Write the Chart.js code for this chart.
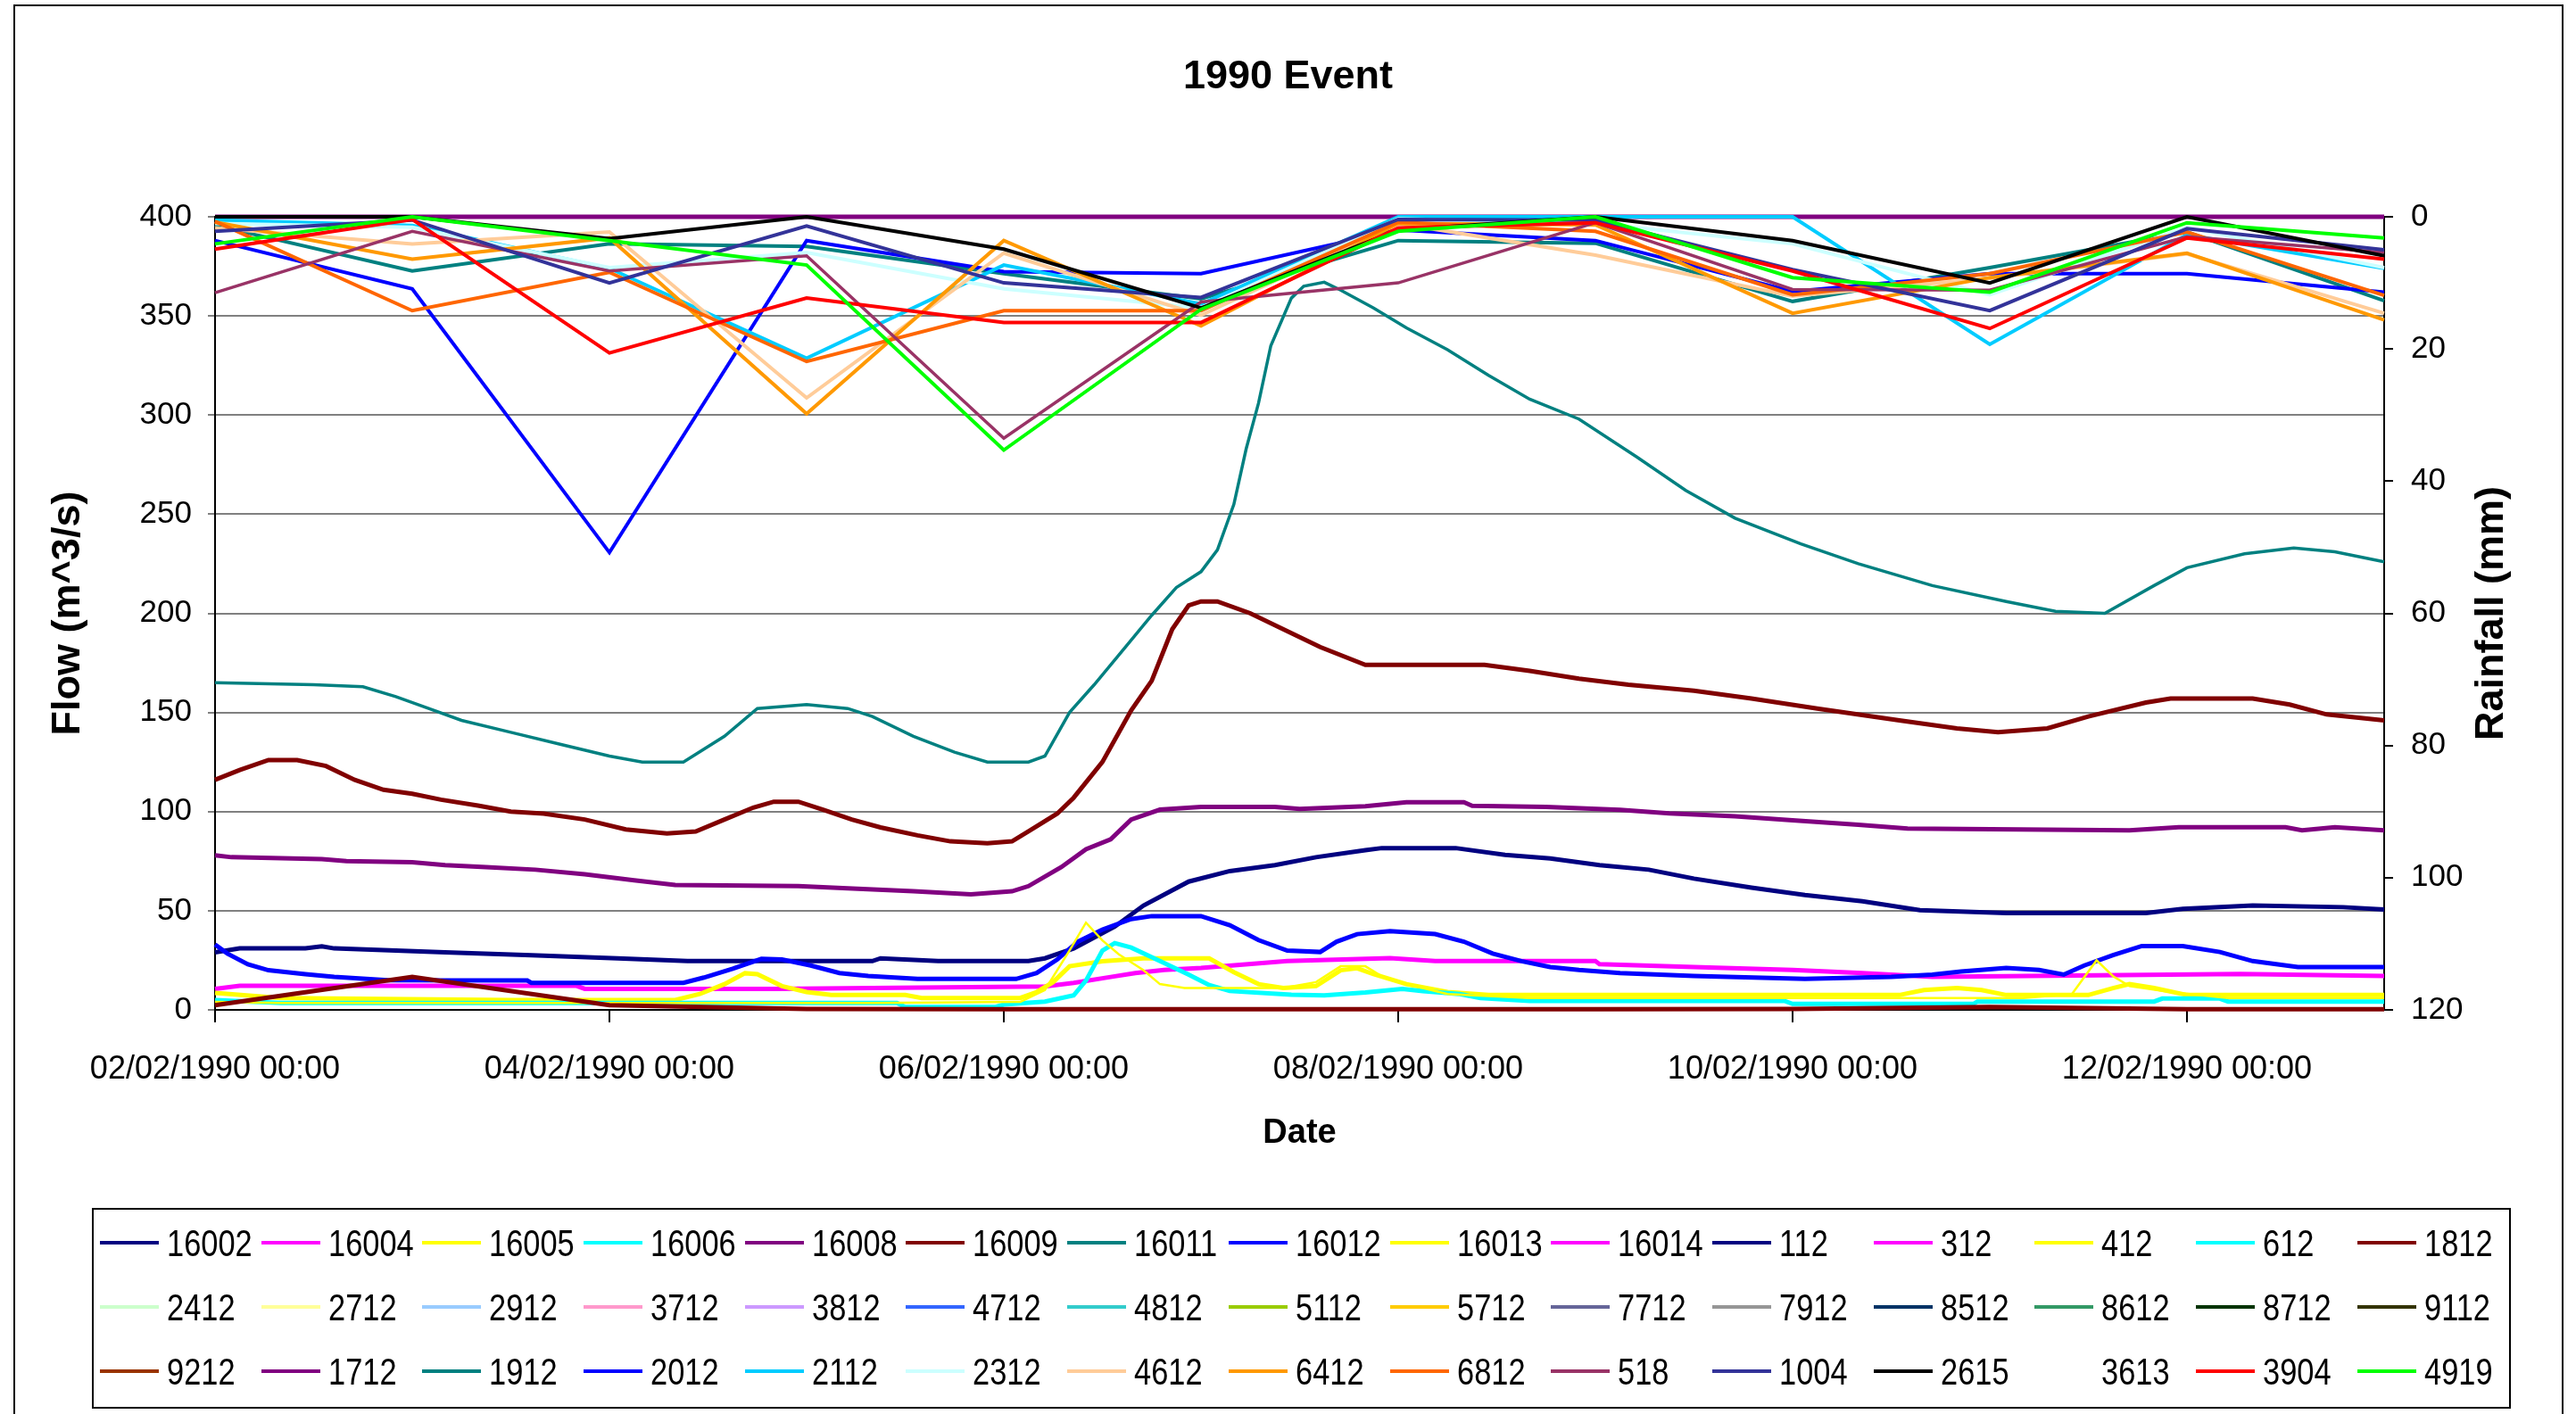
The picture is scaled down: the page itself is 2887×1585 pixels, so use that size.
<!DOCTYPE html>
<html>
<head>
<meta charset="utf-8">
<script src="https://cdn.jsdelivr.net/npm/chart.js@4.4.1/dist/chart.umd.min.js"></script>
<style>
  body { margin: 0; background: #fff; }
  #wrap { position: relative; width: 2887px; height: 1585px; overflow: hidden; }
  #frame { position: absolute; left: 15px; top: 5px; width: 2858px; height: 1590px; border: 2px solid #000; box-sizing: border-box; pointer-events: none; }
  #legend {
    position: absolute; left: 103px; top: 1354px; width: 2711px; height: 225px;
    border: 2px solid #000; box-sizing: border-box; padding: 1px 0 0 7px;
    display: grid; grid-template-columns: repeat(15, 180.7px); grid-auto-rows: 72px;
    font-family: 'Liberation Sans', Arial, sans-serif;
    font-size: 43px; color: #000;
  }
  .item { display: flex; align-items: center; white-space: nowrap; }
  .swatch { width: 66px; height: 4px; margin-right: 9px; flex: none; }
  .name { display: inline-block; transform: scaleX(0.8); transform-origin: left center; }
</style>
</head>
<body>
<div id="wrap">
  <canvas id="chart" width="2887" height="1585"></canvas>
  <div id="frame"></div>
  <div id="legend"></div>
</div>
<script>
const FONT = "'Liberation Sans', Arial, sans-serif";

const chartTitle = '1990 Event';
const flowTitle = 'Flow (m^3/s)';
const rainTitle = 'Rainfall (mm)';
const dateTitle = 'Date';
const dateLabels = ['02/02/1990 00:00', '04/02/1990 00:00', '06/02/1990 00:00',
    '08/02/1990 00:00', '10/02/1990 00:00', '12/02/1990 00:00'];

const seriesNames = ['16002', '16004', '16005', '16006', '16008', '16009', '16011', '16012', '16013', '16014', '112', '312', '412', '612', '1812',
    '2412', '2712', '2912', '3712', '3812', '4712', '4812', '5112', '5712', '7712', '7912', '8512', '8612', '8712', '9112',
    '9212', '1712', '1912', '2012', '2112', '2312', '4612', '6412', '6812', '518', '1004', '2615', '3613', '3904', '4919'];
const seriesColors = ['#000080', '#FF00FF', '#FFFF00', '#00FFFF', '#800080', '#800000', '#008080', '#0000FF', '#FFFF00', '#FF00FF', '#000080', '#FF00FF', '#FFFF00', '#00FFFF', '#800000',
    '#CCFFCC', '#FFFF99', '#99CCFF', '#FF99CC', '#CC99FF', '#3366FF', '#33CCCC', '#99CC00', '#FFCC00', '#666699', '#969696', '#003366', '#339966', '#003300', '#333300',
    '#993300', '#800080', '#008080', '#0000FF', '#00CCFF', '#CCFFFF', '#FFCC99', '#FF9900', '#FF6600', '#993366', '#333399', '#000000', 'rgba(0,0,0,0)', '#FF0000', '#00FF00'];

// hours since 02/02/1990 00:00
const rainHours = [0, 24, 48, 72, 96, 120, 144, 168, 192, 216, 240, 264];

// flow gauges (left axis), read at the corners of each trace
const hours16002 = [0, 3, 11, 13, 14.5, 28, 38.5, 49, 57.5, 80, 81, 88, 99, 101, 104.5, 109.5, 113, 118.5, 123.5, 129, 134, 140, 142, 151, 157, 162.5, 168.5, 174.5, 180, 187, 193.5, 200.5, 207.5, 218, 235, 239.5, 248, 259, 264];
const flow16002 = [29, 31, 31, 32, 31, 29, 27.6, 26, 24.6, 24.6, 26, 24.6, 24.6, 26, 31, 42, 52.6, 64.7, 70, 73, 77, 80.5, 81.6, 81.6, 78.2, 76.4, 73, 70.7, 66.2, 61.6, 57.9, 54.8, 50.3, 48.8, 48.8, 51, 52.6, 51.8, 50.6];

const hours16004 = [0, 3, 44, 45, 68, 101, 104.5, 109, 112, 115.5, 120, 130.5, 143, 148.5, 168, 168.5, 180, 192, 200.5, 209, 246.5, 264];
const flow16004 = [10.6, 12.1, 12.1, 10.6, 10.6, 11.8, 13.6, 16.6, 18.6, 20.1, 21.1, 24.6, 26.1, 24.6, 24.6, 23.1, 21.6, 20.1, 18.6, 16.6, 18.1, 17.1];

const hours16005 = [0, 8, 36, 56, 59, 62, 64.5, 66, 69, 72, 75, 84, 86, 98, 100, 102, 104, 108, 113, 121, 124, 127, 130, 134, 137, 139, 141, 145, 150, 155, 205, 208, 212, 215, 218, 228, 231, 233, 236, 240, 264];
const flow16005 = [8.5, 6, 5, 5, 8, 13, 18.5, 18, 12, 9, 7.5, 7.5, 6, 6, 9, 14, 22, 24.5, 26, 26, 19, 13, 11, 12, 20, 21, 18, 13, 9, 7.5, 7.5, 10, 11, 10, 7.5, 7.5, 11, 13, 11, 7.5, 7.5];

const hours16006 = [0, 8, 83, 84, 95, 96, 101, 104.5, 106, 108, 109.5, 111.5, 115, 118.5, 121, 123.5, 131, 135, 140, 144.5, 147, 151.5, 154, 160, 191, 192, 214, 214.5, 236, 237, 244, 245, 264];
const flow16006 = [5, 3.5, 3.5, 1.5, 1.5, 2.7, 4.2, 7.3, 14.8, 29.9, 33.7, 31.4, 24.6, 17.8, 12.5, 9.5, 7.6, 7.3, 8.8, 10.6, 9.5, 8, 6, 4.5, 4.5, 3, 3, 4.2, 4.2, 5.7, 5.7, 4.2, 4.2];

const hours16008 = [0, 2, 13, 16, 24, 28, 33, 39, 45, 51, 56, 71, 77, 85, 92, 97, 99, 103, 106, 109, 111.5, 115, 120, 129, 132, 140, 145, 152, 153, 162, 171, 177, 185, 192, 200, 206, 233, 239, 252, 254, 258, 264];
const flow16008 = [78, 77, 76, 75, 74.5, 73, 72, 70.7, 68.4, 65.4, 63, 62.4, 61.3, 59.8, 58.3, 59.8, 62.4, 72, 81, 86, 96, 101, 102.4, 102.4, 101.4, 102.7, 104.7, 104.7, 102.9, 102.4, 100.9, 99.1, 97.6, 95.6, 93.4, 91.5, 90.6, 92.1, 92.1, 90.6, 92.1, 90.6];

const hours16009 = [0, 3, 6.5, 10, 13.5, 17, 20.5, 24, 27.5, 32, 36, 40, 45, 50, 55, 58.5, 62, 65.5, 68, 71, 74, 77.5, 81, 85.5, 89.5, 94, 97, 99, 102.5, 104.5, 108, 111.5, 114, 116.5, 118.5, 120, 122, 126, 130.5, 134.5, 140, 154.5, 160, 166, 172, 180, 187, 195, 205, 212, 217, 223, 228, 235, 238, 248, 252.5, 257, 264];
const flow16009 = [116, 121, 126, 126, 123, 116, 111, 109, 106, 103, 100, 99, 96, 91, 89, 90, 96, 102, 105, 105, 101, 96, 92, 88, 85, 84, 85, 90, 99, 107, 125, 151, 166, 192, 204, 206, 206, 200, 191, 183, 174, 174, 171, 167, 164, 161, 157, 152, 146, 142, 140, 142, 148, 155, 157, 157, 154, 149, 146];

const hours16011 = [0, 12, 18, 22, 26, 30, 36, 42, 48, 52, 57, 62, 66, 72, 77, 80, 85, 90, 94, 99, 101, 104, 107, 111, 114, 117, 120, 122, 124, 125.5, 127, 128.5, 131, 132.5, 135, 137, 141, 145, 150, 155, 160, 166, 173, 179, 185, 193, 200, 209, 218, 224, 230, 236, 240, 247, 253, 258, 264];
const flow16011 = [165, 164, 163, 158, 152, 146, 140, 134, 128, 125, 125, 138, 152, 154, 152, 148, 138, 130, 125, 125, 128, 150, 164, 184, 199, 213, 221, 232, 255, 283, 306, 335, 359, 365, 367, 363, 354, 344, 333, 320, 308, 298, 279, 262, 248, 235, 225, 214, 206, 201, 200, 214, 223, 230, 233, 231, 226];

const hours16012 = [0, 1.5, 4, 6.5, 11, 14.5, 21, 38, 38.5, 57, 59.5, 63, 66.5, 69, 72.5, 76, 79.5, 85.5, 97.5, 100, 102.5, 105, 108, 111.5, 114, 120, 123.5, 127, 130.5, 134.5, 136.5, 139, 143, 148.5, 152, 155.5, 159, 162.5, 166, 171, 180, 193.5, 204, 209, 212.5, 218, 222, 225, 227.5, 231, 234.5, 239.5, 244, 248, 253.5, 264];
const flow16012 = [33, 28.4, 23, 20, 18, 16.6, 15, 14.8, 13.6, 13.6, 16.3, 20.8, 25.7, 25.4, 22.4, 18.6, 17.1, 15.6, 15.6, 18.6, 25.4, 34.4, 40.5, 45.8, 47.3, 47.3, 42.7, 35.2, 29.9, 29.2, 34.4, 38.2, 39.7, 38.2, 34.4, 28.4, 24.6, 21.6, 20.1, 18.6, 17.1, 15.6, 16.6, 17.8, 19.3, 21.1, 20.1, 17.8, 22.4, 27.6, 32.2, 32.2, 29.2, 24.6, 21.6, 21.6];

const hours16013 = [0, 8, 80, 98, 101, 104, 106, 108, 110, 113, 115, 118, 130, 134, 137, 140, 142, 146, 150, 160, 220, 226, 229, 231, 233, 238, 245, 264];
const flow16013 = [4, 3.5, 3.5, 4, 10, 30, 44, 35, 28, 20, 13, 11, 11, 14, 22, 22, 17, 12, 8, 6, 6, 8, 25, 17, 12, 9, 6, 6];

// daily gauge drawn against the flow axis
const flow1812 = [2.4, 16.6, 2.4, 0.5, 0.3, 0.3, 0.3, 0.3, 0.5, 1.5, 0.3, 0.3];

// daily rainfall (right axis, mm)
const rain1712 = [0, 0, 0, 0, 0, 0, 0, 0, 0, 0, 0, 0];
const rain1912 = [1.3, 8.2, 4.1, 4.5, 8.6, 12.4, 3.6, 4, 12.8, 7.7, 2.3, 12.7];
const rain2012 = [3.6, 10.9, 50.8, 3.6, 8.3, 8.6, 2, 3.6, 11.3, 8.6, 8.6, 11.4];
const rain2112 = [0.5, 1.3, 7.8, 21.4, 7.3, 13.2, 0, 0, 0, 19.3, 2.7, 7.8];
const rain2312 = [1, 1.6, 7.7, 5.4, 10.9, 13.8, 0.3, 1, 4.1, 11.8, 1.6, 7.7];
const rain4612 = [1.7, 4.1, 2.3, 27.4, 5.5, 14.9, 1, 5.8, 12, 9.3, 5.6, 14.6];
const rain6412 = [0.8, 6.4, 3.2, 29.8, 3.6, 16.5, 1, 1.2, 14.6, 9.2, 5.5, 15.6];
const rain6812 = [0.7, 14.2, 8.4, 21.9, 14.2, 14.2, 0.8, 2.2, 11.8, 8.6, 2.3, 11.9];
const rain518 = [11.5, 2.2, 8.2, 5.9, 33.5, 12.9, 10, 0.9, 11, 11.1, 3, 5.4];
const rain1004 = [2.2, 0.5, 10, 1.4, 10, 12.2, 0.4, 0.5, 8, 14.2, 1.8, 5];
const rain2615 = [0, 0, 3.3, 0, 4.9, 13.8, 2, 0, 3.6, 10, 0, 5.9];
const rain3904 = [4.9, 0.4, 20.6, 12.3, 16, 16, 1.7, 0.9, 8.2, 16.9, 3.2, 6.4];
const rain4919 = [4.1, 0, 3.6, 7.3, 35.3, 14, 2.2, 0, 9.2, 11.4, 0.9, 3.2];

const flowSeries = {
    '16002': [hours16002, flow16002],
    '16004': [hours16004, flow16004],
    '16005': [hours16005, flow16005],
    '16006': [hours16006, flow16006],
    '16008': [hours16008, flow16008],
    '16009': [hours16009, flow16009],
    '16011': [hours16011, flow16011],
    '16012': [hours16012, flow16012],
    '16013': [hours16013, flow16013],
    '1812': [rainHours, flow1812]
};
const rainSeries = {
    '1712': rain1712, '1912': rain1912, '2012': rain2012, '2112': rain2112, '2312': rain2312,
    '4612': rain4612, '6412': rain6412, '6812': rain6812, '518': rain518, '1004': rain1004,
    '2615': rain2615, '3904': rain3904, '4919': rain4919
};

function lineWidth(name) {
    if (name === '16013') return 2.5;
    if (name === '16011') return 3.5;
    if (name === '1712' || name === '1812') return 5;
    if (name === '518') return 3.5;
    if (rainSeries[name]) return 4;
    return 5;
}

const datasets = seriesNames.map(function (name, i) {
    let points = [];
    let axis = 'y';
    if (flowSeries[name]) {
        const hs = flowSeries[name][0];
        const vs = flowSeries[name][1];
        points = hs.map(function (h, k) { return { x: h, y: vs[k] }; });
    } else if (rainSeries[name]) {
        axis = 'y1';
        points = rainHours.map(function (h, k) { return { x: h, y: rainSeries[name][k] }; });
    }
    return {
        label: name,
        data: points,
        yAxisID: axis,
        borderColor: seriesColors[i],
        backgroundColor: seriesColors[i],
        borderWidth: lineWidth(name),
        pointRadius: 0,
        tension: 0,
        fill: false,
        order: -i,
        clip: 8
    };
});

// right axis title reads bottom-to-top like the left one
const rainTitlePlugin = {
    id: 'rainTitle',
    afterDraw: function (chart) {
        const ctx = chart.ctx;
        const area = chart.chartArea;
        ctx.save();
        ctx.translate(2793, (area.top + area.bottom) / 2);
        ctx.rotate(-Math.PI / 2);
        ctx.font = 'bold 45px ' + FONT;
        ctx.fillStyle = '#000';
        ctx.textAlign = 'center';
        ctx.textBaseline = 'middle';
        ctx.fillText(rainTitle, 0, 0);
        ctx.restore();
    }
};

Chart.defaults.font.family = FONT;
Chart.defaults.color = '#000';

new Chart(document.getElementById('chart'), {
    type: 'line',
    data: { datasets: datasets },
    options: {
        responsive: false,
        animation: false,
        devicePixelRatio: 1,
        layout: { padding: { left: 15, right: 15, top: 5, bottom: 0 } },
        plugins: {
            legend: { display: false },
            tooltip: { enabled: false },
            title: {
                display: true,
                text: chartTitle,
                font: { size: 45, weight: 'bold' },
                padding: { top: 55, bottom: 129 }
            }
        },
        scales: {
            x: {
                type: 'linear',
                min: 0,
                max: 264,
                afterFit: function (s) { s.height = 453; },
                ticks: {
                    stepSize: 48,
                    includeBounds: false,
                    maxRotation: 0,
                    autoSkip: false,
                    padding: 31,
                    font: { size: 36 },
                    callback: function (v) { return dateLabels[v / 48]; }
                },
                grid: { drawOnChartArea: false, drawTicks: true, tickLength: 14, color: '#000', lineWidth: 2 },
                border: { color: '#000', width: 2 },
                title: { display: true, text: dateTitle, font: { size: 38, weight: 'bold' }, padding: { top: 0, bottom: 292 } }
            },
            y: {
                position: 'left',
                min: 0,
                max: 400,
                afterFit: function (s) { s.width = 226; },
                ticks: { stepSize: 50, padding: 18, font: { size: 35 } },
                grid: { color: '#808080', lineWidth: 2, tickLength: 8 },
                border: { color: '#000', width: 2 },
                title: { display: true, text: flowTitle, font: { size: 45, weight: 'bold' }, padding: { top: 35, bottom: 0 } }
            },
            y1: {
                position: 'right',
                min: 0,
                max: 120,
                reverse: true,
                afterFit: function (s) { s.width = 200; },
                ticks: { stepSize: 20, padding: 20, font: { size: 35 } },
                grid: { drawOnChartArea: false, color: '#000', lineWidth: 2, tickLength: 10 },
                border: { color: '#000', width: 2 }
            }
        }
    },
    plugins: [rainTitlePlugin]
});

// legend grid built from the series list
const legend = document.getElementById('legend');
seriesNames.forEach(function (name, i) {
    const item = document.createElement('div');
    item.className = 'item';
    const sw = document.createElement('span');
    sw.className = 'swatch';
    sw.style.background = seriesColors[i];
    const txt = document.createElement('span');
    txt.className = 'name';
    txt.textContent = name;
    item.appendChild(sw);
    item.appendChild(txt);
    legend.appendChild(item);
});
</script>
</body>
</html>
